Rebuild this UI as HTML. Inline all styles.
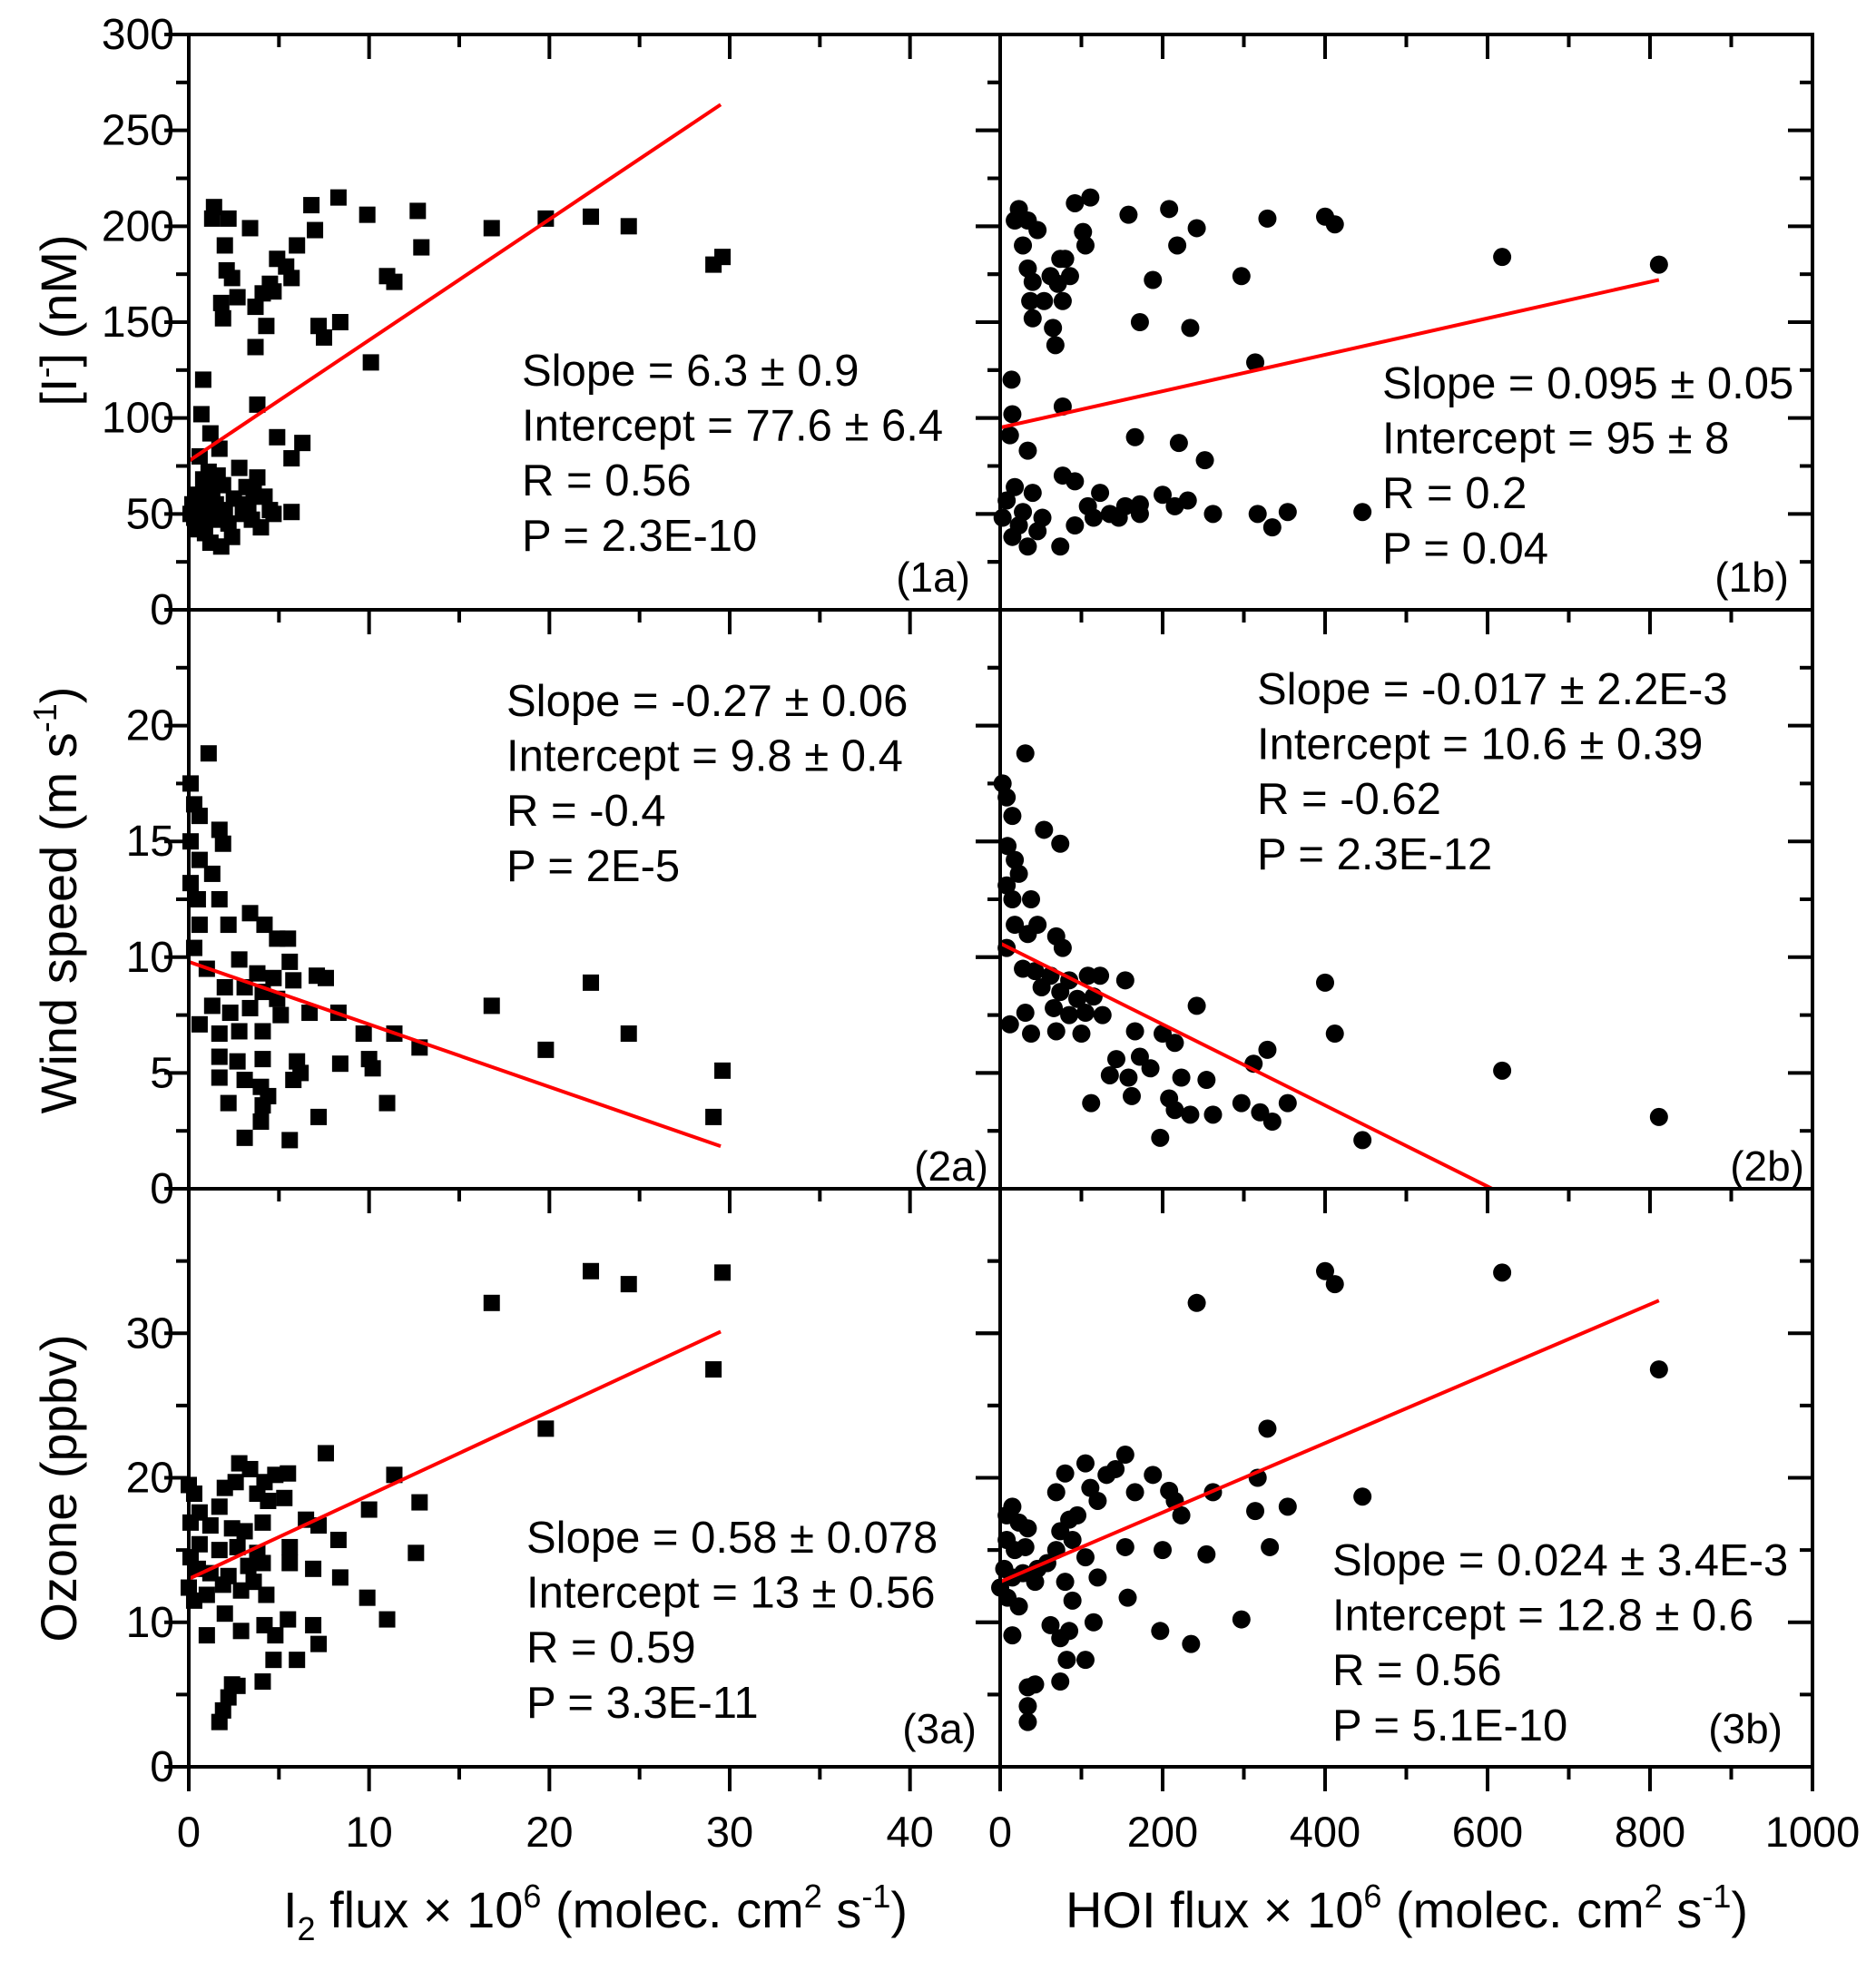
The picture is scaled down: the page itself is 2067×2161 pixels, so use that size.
<!DOCTYPE html>
<html><head><meta charset="utf-8"><style>
html,body{margin:0;padding:0;background:#fff;}
svg{display:block;font-family:"Liberation Sans",Arial,sans-serif;}
</style></head><body>
<svg id="chart" width="2067" height="2161" viewBox="0 0 2067 2161" xmlns="http://www.w3.org/2000/svg"></svg>
<script>
// ---- data ----
const i2Flux1 = [1.4,1.3,2.2,3.4,2.0,2.1,2.4,2.7,1.8,1.9,3.7,4.1,4.5,4.7,4.3,3.7,4.9,5.4,5.7,6.0,6.8,7.0,8.3,7.2,7.5,8.4,9.9,10.1,11.0,11.4,12.7,12.9,16.8,19.8,22.3,24.4,29.1,29.6,0.8,0.7,1.2,1.7,0.6,3.8,4.9,6.3,5.7,5.7,0.2,0.3,0.5,0.6,0.7,0.8,0.9,1.0,1.1,1.2,1.3,1.4,1.5,1.6,1.8,2.0,2.2,2.5,2.8,3.0,3.2,3.3,3.5,3.8,4.0,4.2,4.5,4.7,2.4,0.4,1.9,3.6,1.1,0.1];
const iodide1 = [210,204,204,199,190,177,173,163,160,152,158,165,170,166,148,137,183,179,173,190,211,198,215,148,142,150,206,129,174,171,208,189,199,204,205,200,180,184,120,102,92,84,80,107,90,87,79,51,55,48,60,45,52,68,40,58,50,35,62,47,55,70,33,52,45,58,74,50,64,55,47,69,43,59,52,50,38,42,65,62,72,50];
const hoiFlux1 = [18,23,34,46,28,34,40,37,40,54,65,68,71,74,80,86,62,77,92,102,105,111,158,172,188,208,218,234,242,297,314,329,400,412,618,811,14,15,12,34,77,166,220,252,8,18,28,40,52,77,92,108,123,135,154,172,200,215,231,262,317,335,354,446,74,34,15,3,23,46,92,115,146,172];
const iodide1b = [203,209,203,198,190,178,171,161,152,161,147,138,170,183,183,174,174,161,212,197,190,215,206,150,172,209,190,147,199,174,129,204,205,201,184,180,120,102,91,83,106,90,87,78,57,64,51,61,48,70,67,54,61,50,54,50,60,54,57,50,50,43,51,51,33,33,38,48,44,41,44,48,48,55];
const i2Flux2 = [0.1,0.3,0.6,1.1,0.1,0.6,1.7,1.9,1.3,0.1,0.5,1.7,0.6,2.2,0.3,1.0,3.4,4.2,4.9,5.5,5.6,2.8,3.8,4.7,5.8,7.1,7.6,2.0,3.1,4.1,4.9,1.3,2.3,3.4,5.1,6.7,8.3,0.6,1.7,2.8,4.1,9.7,11.4,12.8,1.7,2.7,4.1,6.0,8.4,10.0,10.2,1.7,3.1,4.0,6.2,5.8,2.2,4.1,4.4,4.0,7.2,11.0,3.1,5.6,16.8,19.8,22.3,24.4,29.1,29.6];
const wind2a = [17.5,16.6,16.1,18.8,15,14.2,15.5,14.9,13.6,13.2,12.5,12.5,11.4,11.4,10.4,9.5,11.9,11.4,10.8,10.8,9.8,9.9,9.3,9.1,9.0,9.2,9.1,8.7,8.7,8.5,8.2,7.9,7.6,7.8,7.5,7.6,7.6,7.1,6.7,6.8,6.8,6.7,6.7,6.1,5.7,5.5,5.6,5.5,5.4,5.6,5.2,4.8,4.7,4.4,5.0,4.7,3.7,3.6,4.0,2.9,3.1,3.7,2.2,2.1,7.9,6.0,8.9,6.7,3.1,5.1];
const hoiFlux2 = [3,8,15,31,9,18,54,74,23,8,15,38,18,46,34,8,69,77,28,43,62,85,108,123,154,51,74,95,115,31,66,85,105,126,12,38,69,100,166,200,215,172,143,185,254,135,158,223,312,329,242,400,412,112,162,208,215,234,262,297,320,335,354,197,446,618,811];
const wind2b = [17.5,16.9,16.1,18.8,14.8,14.2,15.5,14.9,13.6,13.1,12.5,12.5,11.4,11.4,11.0,10.4,10.9,10.4,9.5,9.4,9.2,9.0,9.2,9.2,9.0,8.7,8.5,8.2,8.3,7.6,7.8,7.5,7.6,7.5,7.1,6.7,6.8,6.7,6.8,6.7,6.3,5.7,5.6,5.2,4.7,4.9,4.8,4.8,5.4,6.0,7.9,8.9,6.7,3.7,4.0,3.9,3.4,3.2,3.2,3.7,3.3,2.9,3.7,2.2,2.1,5.1,3.1];
const i2Flux3 = [0,0.3,0.6,0.1,1.2,1.7,2,2.6,2.8,3.4,3.8,4.2,4.8,5.5,7.6,4.4,5.3,2.4,3.1,4.1,6.5,7.2,8.3,0.6,1.7,2.7,3.8,5.6,5.6,0.1,0.5,1.2,2.2,3.3,4.1,0,0.3,1.0,1.9,2.9,3.6,4.3,6.9,8.4,10.0,11.4,12.8,12.6,9.9,11,1.0,2.0,2.9,4.2,4.8,5.5,6.9,4.7,6,7.2,4.1,2.4,2.7,2.2,1.9,1.7,16.8,19.8,22.3,24.4,29.1,29.6];
const ozone3a = [19.5,18.9,17.6,16.9,16.7,18,19.3,19.7,21,20.6,18.9,19.7,20.2,20.3,21.7,18.4,18.6,16.5,16.3,16.9,17.1,16.7,15.7,15.4,15,15.2,14.8,15.2,14.1,14.5,13.7,13.4,13.2,13.9,14.1,12.4,11.5,11.9,12.6,12.2,12.8,11.9,13.7,13.1,17.8,20.2,18.3,14.8,11.7,10.2,9.1,10.6,9.4,9.8,9.1,10.2,9.8,7.4,7.4,8.5,5.9,5.7,5.6,4.8,3.9,3.1,32.1,23.4,34.3,33.4,27.5,34.2];
const hoiFlux3 = [8,15,23,34,8,18,31,5,15,28,43,0,9,23,58,69,74,85,69,80,105,111,131,142,154,166,188,208,215,223,262,317,354,446,95,120,154,200,254,314,332,89,105,120,80,89,46,157,15,62,74,85,115,82,105,197,235,297,43,34,74,34,34,242,329,400,412,618,811];
const ozone3b = [17.4,18,16.9,16.5,15.7,15,15.2,13.7,13.1,13.4,12.8,12.4,11.7,11.1,14.1,15,16.3,17.1,19,20.3,21,19.3,20.2,20.6,21.6,19,20.2,19.1,18.4,17.4,19,20,18,18.7,17.4,18.4,15.2,15,14.7,17.7,15.2,15.7,14.5,13.1,12.8,11.5,13.7,11.7,9.1,9.8,8.9,9.4,10,7.4,7.4,9.4,8.5,10.2,5.7,5.5,5.9,4.2,3.1,32.1,23.4,34.3,33.4,34.2,27.5];
const fitIntercepts = [77.6,95,9.8,10.6,13,12.8];
const fitSlopes = [6.3,0.095,-0.27,-0.0175,0.58,0.024];
const fitEnds = [29.5,811,29.5,605,29.5,811];
const xTicksA = [0,10,20,30,40];
const xTicksB = [0,200,400,600,800,1000];
const yTicks1 = [0,50,100,150,200,250,300];
const yTicks2 = [0,5,10,15,20];
const yTicks3 = [0,10,20,30];
const stats = [
 ["Slope = 6.3 \u00b1 0.9","Intercept = 77.6 \u00b1 6.4","R = 0.56","P = 2.3E-10"],
 ["Slope = 0.095 \u00b1 0.05","Intercept = 95 \u00b1 8","R = 0.2","P = 0.04"],
 ["Slope = -0.27 \u00b1 0.06","Intercept = 9.8 \u00b1 0.4","R = -0.4","P = 2E-5"],
 ["Slope = -0.017 \u00b1 2.2E-3","Intercept = 10.6 \u00b1 0.39","R = -0.62","P = 2.3E-12"],
 ["Slope = 0.58 \u00b1 0.078","Intercept = 13 \u00b1 0.56","R = 0.59","P = 3.3E-11"],
 ["Slope = 0.024 \u00b1 3.4E-3","Intercept = 12.8 \u00b1 0.6","R = 0.56","P = 5.1E-10"]];
const panelLabels = ["(1a)","(1b)","(2a)","(2b)","(3a)","(3b)"];

// ---- layout ----
const NS="http://www.w3.org/2000/svg";
const svg=document.getElementById('chart');
function mk(tag,attrs,parent){const e=document.createElementNS(NS,tag);for(const k in attrs)e.setAttribute(k,attrs[k]);(parent||svg).appendChild(e);return e;}
const XL=208, XM=1102, XR=1997;
const rowTop=[38,672,1310], rowBot=[672,1310,1947];
const yMax=[300,25,40], yMinorStep=[25,2.5,5];
const xMax=[45,1000], xMinorStep=[5,100];
const colL=[XL,XM], colR=[XM,XR];
function sx(c,v){return colL[c]+v/xMax[c]*(colR[c]-colL[c]);}
function sy(r,v){return rowBot[r]-v/yMax[r]*(rowBot[r]-rowTop[r]);}
const xs=[[i2Flux1,hoiFlux1],[i2Flux2,hoiFlux2],[i2Flux3,hoiFlux3]];
const ys=[[iodide1,iodide1b],[wind2a,wind2b],[ozone3a,ozone3b]];
const yTicks=[yTicks1,yTicks2,yTicks3];
const xTicks=[xTicksA,xTicksB];
const statPos=[[575,425],[1523,439],[558,789],[1385,776],[580,1711],[1468,1736]];
const labPos=[[1069,652],[1971,652],[1089,1301],[1988,1301],[1076,1921],[1964,1921]];

for(let r=0;r<3;r++){for(let c=0;c<2;c++){
  const k=r*2+c;
  const g=mk('g',{});
  
  
  const X=xs[r][c],Y=ys[r][c];
  for(let i=0;i<X.length;i++){
    let m;
    if(c===0){m=mk('rect',{x:sx(c,X[i])-9,y:sy(r,Y[i])-9,width:18,height:18,fill:'#000'},g);}
    else{m=mk('circle',{cx:sx(c,X[i]),cy:sy(r,Y[i]),r:10,fill:'#000'},g);}
    
    
  }
  const x1=fitEnds[k];
  let y1=fitIntercepts[k]+fitSlopes[k]*x1; if(y1<0)y1=0;
  const ln=mk('line',{x1:sx(c,0),y1:sy(r,fitIntercepts[k]),x2:sx(c,x1),y2:sy(r,y1),stroke:'#f00','stroke-width':4},g);
  
  
  const st=mk('text',{x:statPos[k][0],y:statPos[k][1],'font-size':49,fill:'#000'},g);
  
  
  stats[k].forEach((s,j)=>{const t=mk('tspan',{x:statPos[k][0],y:statPos[k][1]+j*60.6},st);t.textContent=s;});
  const pl=mk('text',{x:labPos[k][0],y:labPos[k][1],'font-size':46,'text-anchor':'end'},g);
  pl.textContent=panelLabels[k];
  
  
  const L=colL[c],R=colR[c],T=rowTop[r],B=rowBot[r];
  for(let v=0;v<=yMax[r]+1e-9;v+=yMinorStep[r]){
    const maj=yTicks[r].some(t=>Math.abs(t-v)<1e-9);const len=maj?27:14;const y=sy(r,v);
    mk('line',{x1:L-len,y1:y,x2:L,y2:y,stroke:'#000','stroke-width':4},g);
    mk('line',{x1:R-len,y1:y,x2:R,y2:y,stroke:'#000','stroke-width':4},g);
  }
  for(let v=0;v<=xMax[c]+1e-9;v+=xMinorStep[c]){
    const maj=xTicks[c].some(t=>Math.abs(t-v)<1e-9);const len=maj?27:14;const x=sx(c,v);
    mk('line',{x1:x,y1:T,x2:x,y2:T+len,stroke:'#000','stroke-width':4},g);
    if(r===2)mk('line',{x1:x,y1:B,x2:x,y2:B+len,stroke:'#000','stroke-width':4},g);
  }
  mk('rect',{x:L,y:T,width:R-L,height:B-T,fill:'none',stroke:'#000','stroke-width':4},g);
}}
for(let r=0;r<3;r++){yTicks[r].forEach(v=>{
  const t=mk('text',{x:192,y:sy(r,v)+16,'font-size':48,'text-anchor':'end'});t.textContent=v;
  
  
});}
for(let c=0;c<2;c++){xTicks[c].forEach(v=>{
  const t=mk('text',{x:sx(c,v),y:2035,'font-size':47,'text-anchor':'middle'});t.textContent=v;
  
  
});}
</script>
<svg style="position:absolute;left:0;top:0" width="2067" height="2161" font-family="Liberation Sans, Arial, sans-serif">
  <text transform="translate(84,353) rotate(-90)" font-size="56" text-anchor="middle">[I<tspan font-size="36" dy="-22">-</tspan><tspan dy="22">] (nM)</tspan></text>
  <text transform="translate(84,992) rotate(-90)" font-size="56" text-anchor="middle">Wind speed (m s<tspan font-size="36" dy="-22">-1</tspan><tspan dy="22">)</tspan></text>
  <text transform="translate(84,1640) rotate(-90)" font-size="56" text-anchor="middle">Ozone (ppbv)</text>
  <text x="656" y="2124" font-size="56" text-anchor="middle">I<tspan font-size="36" dy="14">2</tspan><tspan dy="-14"> flux × 10</tspan><tspan font-size="36" dy="-22">6</tspan><tspan dy="22"> (molec. cm</tspan><tspan font-size="36" dy="-22">2</tspan><tspan dy="22"> s</tspan><tspan font-size="36" dy="-22">-1</tspan><tspan dy="22">)</tspan></text>
  <text x="1550" y="2124" font-size="56" text-anchor="middle">HOI flux × 10<tspan font-size="36" dy="-22">6</tspan><tspan dy="22"> (molec. cm</tspan><tspan font-size="36" dy="-22">2</tspan><tspan dy="22"> s</tspan><tspan font-size="36" dy="-22">-1</tspan><tspan dy="22">)</tspan></text>
</svg>
</body></html>
